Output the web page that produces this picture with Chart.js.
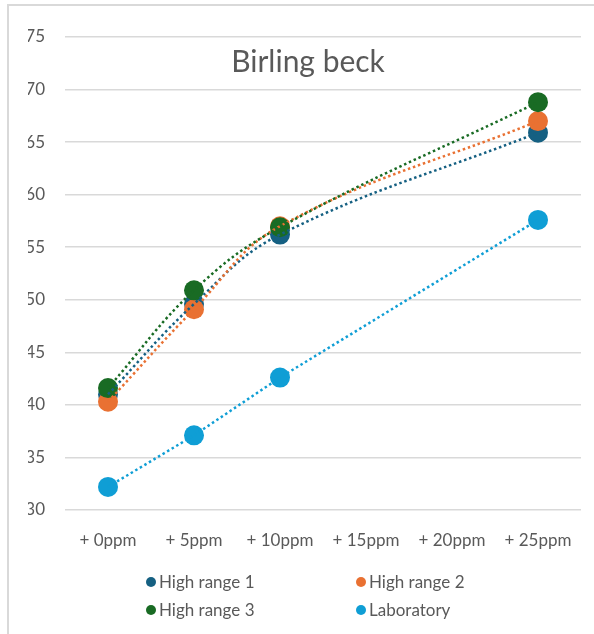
<!DOCTYPE html>
<html>
<head>
<meta charset="utf-8">
<script src="https://cdn.jsdelivr.net/npm/chart.js@4/dist/chart.umd.min.js"></script>
<style>
  html, body { margin: 0; padding: 0; background: #fff; }
  #wrap { position: relative; width: 594px; height: 634px; overflow: hidden; }
  #frame { position: absolute; left: 7px; top: 4px; width: 700px; height: 700px;
           border-top: 2px solid #d9d9d9; border-left: 2px solid #d9d9d9; }
  canvas { position: absolute; left: 0; top: 0; }
</style>
</head>
<body>
<div id="wrap">
  <div id="frame"></div>
  <canvas id="chart" width="594" height="634"></canvas>
</div>
<script>
// Spike additions at Birling beck
const chartTitle = 'Birling beck';
const categories = ['+ 0ppm', '+ 5ppm', '+ 10ppm', '+ 15ppm', '+ 20ppm', '+ 25ppm'];
const highRange1 = [41.0, 49.6, 56.2, null, null, 65.9];
const highRange2 = [40.3, 49.1, 57.0, null, null, 67.0];
const highRange3 = [41.6, 50.9, 56.9, null, null, 68.8];
const laboratory = [32.2, 37.1, 42.6, null, null, 57.6];
const yTicks = { min: 30, max: 75, step: 5 };

const seriesList = [
  { label: 'High range 1', data: highRange1, color: '#156082', curve: true },
  { label: 'High range 2', data: highRange2, color: '#E97132', curve: true },
  { label: 'High range 3', data: highRange3, color: '#196B24', curve: true },
  { label: 'Laboratory',   data: laboratory, color: '#0F9ED5', curve: false }
];

const textColor = '#595959';
const fontFamily = 'Lato, "Open Sans", sans-serif';

// Markers first (underneath), then the dotted trend lines on top
const markerSets = seriesList.map((s, i) => ({
  label: s.label,
  data: s.data,
  showLine: false,
  pointRadius: 10,
  pointHoverRadius: 10,
  pointBackgroundColor: s.color,
  pointBorderColor: s.color,
  pointBorderWidth: 0,
  backgroundColor: s.color,
  borderColor: s.color,
  order: 8 - i
}));
const trendSets = seriesList.map((s, i) => ({
  label: s.label + ' trend',
  data: s.data,
  showLine: true,
  spanGaps: true,
  pointRadius: 0,
  pointHoverRadius: 0,
  borderColor: s.color,
  borderWidth: 2.5,
  borderDash: [2.5, 2.8],
  fill: false,
  tension: s.curve ? 0.4 : 0,
  order: 4 - i
}));

const overlayTitle = {
  id: 'overlayTitle',
  afterDraw(chart) {
    const ctx = chart.ctx;
    ctx.save();
    ctx.font = '30px ' + fontFamily;
    ctx.fillStyle = textColor;
    ctx.textAlign = 'center';
    ctx.textBaseline = 'alphabetic';
    ctx.fillText(chartTitle, 308, 72);
    ctx.restore();
  }
};

const gridLegend = {
  id: 'gridLegend',
  afterDraw(chart) {
    const ctx = chart.ctx;
    const cols = [151, 361];
    const rows = [chart.height - 52, chart.height - 24];
    ctx.save();
    ctx.font = '17px ' + fontFamily;
    ctx.textAlign = 'left';
    ctx.textBaseline = 'middle';
    seriesList.forEach((s, i) => {
      const x = cols[i % 2];
      const y = rows[Math.floor(i / 2)];
      ctx.beginPath();
      ctx.fillStyle = s.color;
      ctx.arc(x, y, 5, 0, Math.PI * 2);
      ctx.fill();
      ctx.fillStyle = textColor;
      ctx.fillText(s.label, x + 8, y + 1);
    });
    ctx.restore();
  }
};

new Chart(document.getElementById('chart'), {
  type: 'line',
  data: { labels: categories, datasets: [...markerSets, ...trendSets] },
  options: {
    responsive: false,
    animation: false,
    events: [],
    layout: { padding: { left: 28, right: 13, top: 37, bottom: 74 } },
    plugins: {
      legend: { display: false },
      title: { display: false },
      tooltip: { enabled: false }
    },
    scales: {
      x: {
        offset: true,
        grid: { display: false },
        border: { display: false },
        ticks: {
          color: textColor,
          font: { family: fontFamily, size: 17 },
          padding: 12,
          maxRotation: 0,
          autoSkip: false
        },
        afterFit(scale) { scale.height = 50; }
      },
      y: {
        min: yTicks.min,
        max: yTicks.max,
        grid: { color: '#d9d9d9', lineWidth: 1.5, drawTicks: false },
        border: { display: false },
        ticks: {
          stepSize: yTicks.step,
          color: textColor,
          font: { family: fontFamily, size: 17 },
          padding: 20
        },
        afterFit(scale) { scale.width = 37; }
      }
    }
  },
  plugins: [overlayTitle, gridLegend]
});
</script>
</body>
</html>
